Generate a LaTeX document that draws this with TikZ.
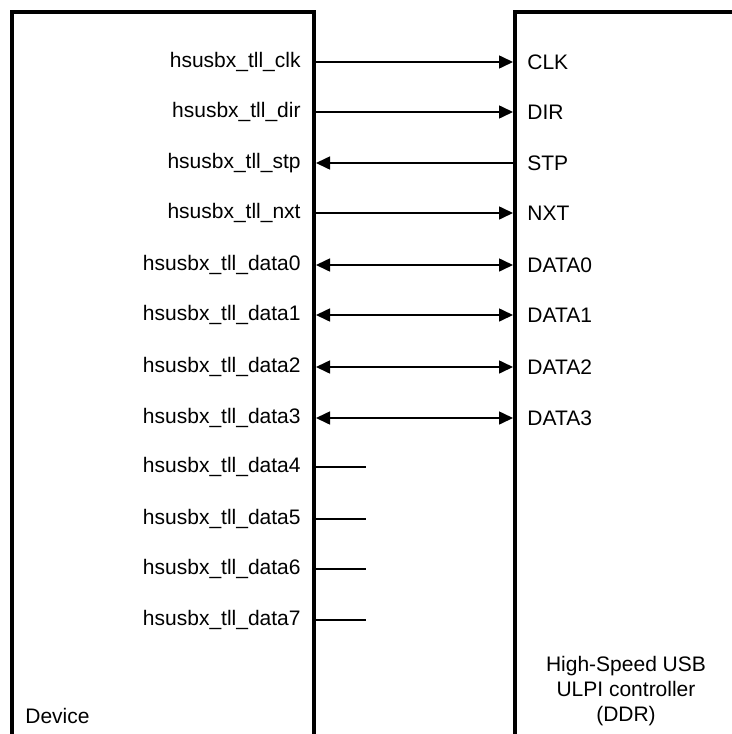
\documentclass[tikz,border=0pt]{standalone}
\usepackage{fontspec}
\setmainfont{Liberation Sans}
\usetikzlibrary{arrows.meta}

\tikzset{
    blockline/.style={line width=2pt},
    sigline/.style={line width=0.8pt},
    pinlabel/.style={anchor=east,inner sep=0pt,font=\fontsize{10.5}{12}\selectfont},
    portlabel/.style={anchor=west,inner sep=0pt,font=\fontsize{10.5}{12}\selectfont}
}

\begin{document}
\begin{tikzpicture}[x=0.5pt,y=-0.5pt,>={Triangle[length=7pt,width=6.5pt]}]
            \useasboundingbox (0,0) rectangle (732,734);

            \begin{scope}
                \draw[blockline] (12,740)--(12,12)--(314,12)--(314,740);
                \node[portlabel] (device) at (25,716) {Device};
            \end{scope}

            \begin{scope}
                \draw[blockline] (515,740)--(515,12)--(740,12);
                \node[align=center,inner sep=0pt,font=\fontsize{10.5}{12.3}\selectfont] (ulpi) at (626,691)
                    {High-Speed USB\\ULPI controller\\(DDR)};
            \end{scope}

            \foreach \y/\s/\p in {62/clk/CLK,112/dir/DIR,163/stp/STP,213/nxt/NXT,
                                  265/data0/DATA0,315/data1/DATA1,367/data2/DATA2,418/data3/DATA3}{
                \node[pinlabel] (pin-\s) at (301,\y) {hsusbx\_tll\_\s};
                \node[portlabel] (port-\s) at (527,\y) {\p};
                \coordinate (dev-\s) at (316,\y);
                \coordinate (ctl-\s) at (513,\y);
            }

            \foreach \s in {clk,dir,nxt}{
                \draw[sigline,->] (dev-\s)--(ctl-\s);
            }
            \draw[sigline,->] (ctl-stp)--(dev-stp);
            \foreach \s in {data0,data1,data2,data3}{
                \draw[sigline,<->] (dev-\s)--(ctl-\s);
            }

            \foreach \y/\s in {467/data4,519/data5,569/data6,620/data7}{
                \node[pinlabel] (pin-\s) at (301,\y) {hsusbx\_tll\_\s};
                \coordinate (dev-\s) at (316,\y);
                \coordinate (end-\s) at (366,\y);
                \draw[sigline] (dev-\s)--(end-\s);
            }
        \end{tikzpicture}
\end{document}
